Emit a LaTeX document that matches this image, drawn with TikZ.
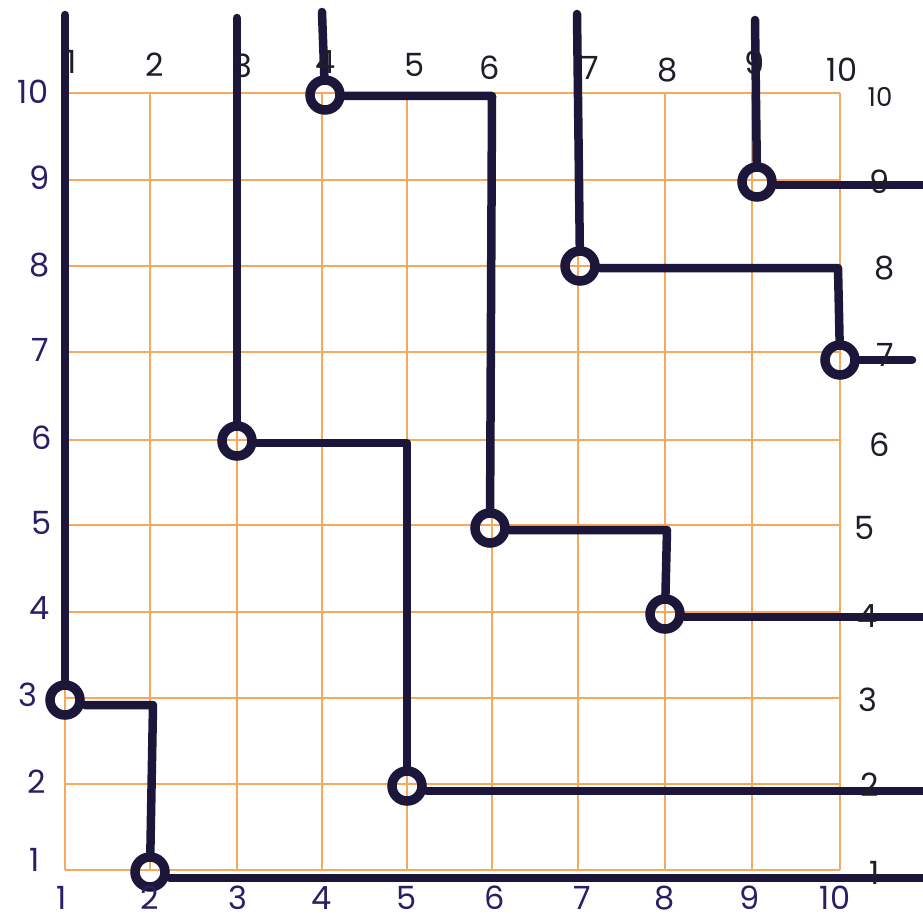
\documentclass[tikz,border=0pt]{standalone}
\usepackage{fontspec}
\setmainfont{Poppins}
\definecolor{gridor}{RGB}{246,168,92}
\definecolor{ink}{RGB}{28,22,58}
\definecolor{navy}{RGB}{40,32,100}
\definecolor{blk}{RGB}{30,30,40}
\tikzset{
  gridline/.style={draw=gridor, line width=2.2pt},
  wire/.style={draw=ink, line width=8.5pt, line cap=round, line join=round},
  ring/.style={circle, draw=ink, line width=9.5pt, minimum size=30pt, inner sep=0pt},
  lab/.style={font=\fontsize{32}{34}\selectfont, text=navy, inner sep=0pt},
  labk/.style={lab, text=blk},
}
\begin{document}
\begin{tikzpicture}[x=1pt,y=-1pt]
\fill[white] (0,0) rectangle (923,923);
\useasboundingbox (0,0) rectangle (923,923);
% grid
\foreach \x in {65,150,237,322,407,492,578,665,752,840}
  \draw[gridline] (\x,93) -- (\x,870);
\foreach \y in {93,180,266,352,440,525,612,698,784,870}
  \draw[gridline] (65,\y) -- (840,\y);
% rings
\node[ring] (r13) at (65,700) {};
\node[ring] (r21) at (150,872) {};
\node[ring] (r36) at (237,441) {};
\node[ring] (r52) at (407,786) {};
\node[ring] (r410) at (325,95) {};
\node[ring] (r65) at (490,528) {};
\node[ring] (r84) at (665,614) {};
\node[ring] (r78) at (580,266) {};
\node[ring] (r107) at (840,360) {};
\node[ring] (r99) at (757,182) {};
% free ends and corners
\coordinate (t1) at (65,15);
\coordinate (t3) at (237,18);
\coordinate (t4) at (322,12);
\coordinate (t7) at (577,14);
\coordinate (t9) at (755,20);
\coordinate (k1) at (153,705);
\coordinate (k2) at (407,443);
\coordinate (k3) at (492,96);
\coordinate (k4) at (667,530);
\coordinate (k5) at (838,268);
\coordinate (e1) at (930,878);
\coordinate (e2) at (930,791);
\coordinate (e3) at (930,617);
\coordinate (e4) at (912,360);
\coordinate (e5) at (930,185);
% wires
\draw[wire] (t1) -- (r13);
\draw[wire] (r13.east |- k1) -- (k1) -- (r21);
\draw[wire] (r21.east |- e1) -- (e1);
\draw[wire] (t3) -- (r36);
\draw[wire] (r36.east |- k2) -- (k2) -- (r52);
\draw[wire] (r52.east |- e2) -- (e2);
\draw[wire] (t4) -- (r410);
\draw[wire] (r410.east |- k3) -- (k3) -- (r65);
\draw[wire] (r65.east |- k4) -- (k4) -- (r84);
\draw[wire] (r84.east |- e3) -- (e3);
\draw[wire] (t7) -- (r78);
\draw[wire] (r78.east |- k5) -- (k5) -- (r107);
\draw[wire] (r107.east |- e4) -- (e4);
\draw[wire] (t9) -- (r99);
\draw[wire] (r99.east |- e5) -- (e5);
% top labels
\node[labk] (tl1) at (72,62) {1};
\node[labk] (tl2) at (155,65) {2};
\node[labk] (tl3) at (243,66) {3};
\node[labk] (tl4) at (326,62) {4};
\node[labk] (tl5) at (415,65) {5};
\node[labk] (tl6) at (490,68) {6};
\node[labk] (tl7) at (590,68) {7};
\node[labk] (tl8) at (668,70) {8};
\node[labk] (tl9) at (755,63) {9};
\node[labk] (tl10) at (842,70) {10};
\node[labk, font=\fontsize{26}{28}\selectfont] (tl10b) at (880,97) {10};
% right labels
\node[labk] (rl9) at (880,182) {9};
\node[labk] (rl8) at (885,268) {8};
\node[labk] (rl7) at (885,355) {7};
\node[labk] (rl6) at (880,445) {6};
\node[labk] (rl5) at (865,528) {5};
\node[labk] (rl4) at (868,616) {4};
\node[labk] (rl3) at (868,700) {3};
\node[labk] (rl2) at (870,785) {2};
\node[labk] (rl1) at (875,873) {1};
% left labels
\node[lab] (ll10) at (33,92) {10};
\node[lab] (ll9) at (40,178) {9};
\node[lab] (ll8) at (40,265) {8};
\node[lab] (ll7) at (40,350) {7};
\node[lab] (ll6) at (42,438) {6};
\node[lab] (ll5) at (42,523) {5};
\node[lab] (ll4) at (40,608) {4};
\node[lab] (ll3) at (28,695) {3};
\node[lab] (ll2) at (37,782) {2};
\node[lab] (ll1) at (35,860) {1};
% bottom labels
\node[lab] (bl1) at (62,898) {1};
\node[lab] (bl2) at (150,898) {2};
\node[lab] (bl3) at (238,898) {3};
\node[lab] (bl4) at (322,898) {4};
\node[lab] (bl5) at (407,898) {5};
\node[lab] (bl6) at (495,898) {6};
\node[lab] (bl7) at (582,898) {7};
\node[lab] (bl8) at (665,898) {8};
\node[lab] (bl9) at (750,898) {9};
\node[lab] (bl10) at (835,898) {10};
\end{tikzpicture}
\end{document}
